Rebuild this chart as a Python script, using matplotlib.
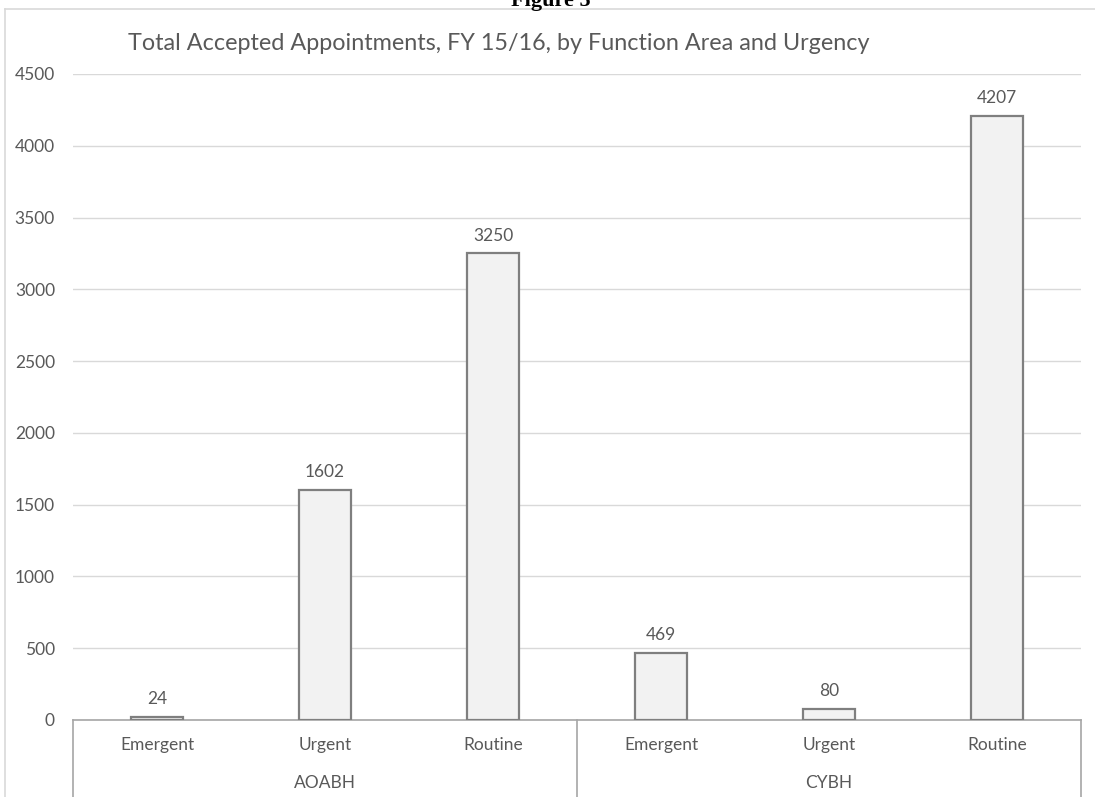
import matplotlib.pyplot as plt
from matplotlib.lines import Line2D

# data
groups = ["AOABH", "CYBH"]
urgency = ["Emergent", "Urgent", "Routine"]
aoabh_vals = [24, 1602, 3250]
cybh_vals = [469, 80, 4207]

text_col = "#595959"
plt.rcParams['font.family'] = ['Lato', 'DejaVu Sans']

fig = plt.figure(figsize=(10.95, 7.97), dpi=100)
ax = fig.add_axes([73 / 1095, 77 / 797, 1008 / 1095, 646 / 797])

values = aoabh_vals + cybh_vals
labels = urgency * len(groups)
xs = list(range(len(values)))

ax.bar(xs, values, width=0.315, color="#f2f2f2", edgecolor="#7f7f7f",
       linewidth=1.6, zorder=3)
for x, v in zip(xs, values):
    ax.annotate(str(v), (x, v), xytext=(0, 7), textcoords="offset points",
                ha="center", va="bottom", fontsize=12.5, color=text_col)

ax.set_xlim(-0.5, len(values) - 0.5)
ax.set_ylim(0, 4500)
ax.set_yticks(range(0, 4501, 500))
ax.tick_params(axis="y", length=0, pad=13, labelsize=12.5, labelcolor=text_col)
ax.set_xticks([])
ax.grid(axis="y", color="#d9d9d9", linewidth=1, zorder=0)
for s in ["top", "right", "left"]:
    ax.spines[s].set_visible(False)
ax.spines["bottom"].set_color("#a6a6a6")
ax.spines["bottom"].set_linewidth(1.2)

# multi-level category axis
tr = ax.get_xaxis_transform()
for x, lab in zip(xs, labels):
    ax.text(x, -0.039, lab, transform=tr, ha="center", va="center",
            fontsize=12.5, color=text_col)
for i, g in enumerate(groups):
    ax.text(i * 3 + 1, -0.098, g, transform=tr, ha="center", va="center",
            fontsize=12.5, color=text_col)
for xb in [-0.5, 2.5, 5.5]:
    ax.plot([xb, xb], [0, -0.13], transform=tr, color="#a6a6a6",
            linewidth=1.2, clip_on=False)

# chart title and outer frame
fig.text(128 / 1095, 1 - 50 / 797,
         "Total Accepted Appointments, FY 15/16, by Function Area and Urgency",
         ha="left", va="baseline", fontsize=16.8, color=text_col)
fig.add_artist(Line2D([5 / 1095, 5 / 1095], [0, 1 - 9 / 797], color="#d9d9d9",
                      linewidth=1.2, transform=fig.transFigure))
fig.add_artist(Line2D([5 / 1095, 1], [1 - 9 / 797, 1 - 9 / 797], color="#d9d9d9",
                      linewidth=1.2, transform=fig.transFigure))

# clipped document caption above the chart
fig.text(551 / 1095, 1 - 6 / 797, "Figure 5", ha="center", va="baseline",
         fontsize=16, fontweight="bold", family="Liberation Serif", color="black")

fig.savefig("out.png", dpi=100)
